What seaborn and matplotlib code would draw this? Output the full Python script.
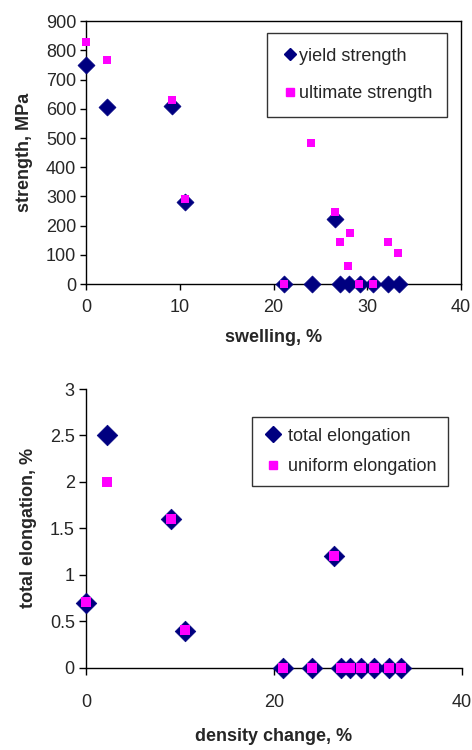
import numpy as np
import pandas as pd
import matplotlib
matplotlib.use("Agg")
import matplotlib.pyplot as plt
import seaborn as sns
from matplotlib.lines import Line2D

# dados
swelling_yield = [0, 2.3, 9.2, 10.6, 26.5, 21.1, 24.1, 27.1, 28.0, 29.2, 30.6, 32.2, 33.4]
yield_strength = [752, 605, 610, 280, 223, 0, 0, 0, 0, 0, 0, 0, 0]

swelling_ult = [0, 2.3, 9.15, 10.6, 21.1, 24.0, 26.5, 27.1, 28.1, 27.9, 29.1, 30.6, 32.2, 33.3]
ultimate_strength = [828, 766, 632, 291, 0, 482, 248, 143, 175, 63, 0, 0, 143, 105]

density_change = [0, 2.2, 9.1, 10.5, 26.4, 21.0, 24.0, 27.1, 28.1, 29.2, 30.6, 32.2, 33.5]
total_elong = [0.7, 2.5, 1.6, 0.4, 1.2, 0, 0, 0, 0, 0, 0, 0, 0]
uniform_elong = [0.71, 2.0, 1.6, 0.41, 1.2, 0, 0, 0, 0, 0, 0, 0, 0]

navy = "#000080"
magenta = "#FF00FF"

sns.set_style("white")
plt.rcParams['font.family'] = ['Liberation Sans', 'DejaVu Sans']

fig = plt.figure(figsize=(4.72, 7.5), dpi=100)

# grafico superior
ax1 = fig.add_axes([0.182, 0.6213, 0.795, 0.3503])
sns.scatterplot(x=swelling_yield, y=yield_strength, ax=ax1, marker="D", s=75,
                color=navy, edgecolor=navy, linewidth=0.5, clip_on=False, zorder=3)
sns.scatterplot(x=swelling_ult, y=ultimate_strength, ax=ax1, marker="s", s=34,
                color=magenta, edgecolor=magenta, linewidth=0, clip_on=False, zorder=4)
ax1.set_xlim(0, 40)
ax1.set_ylim(0, 900)
ax1.set_xticks([0, 10, 20, 30, 40])
ax1.set_yticks(range(0, 901, 100))
for sp in ax1.spines.values():
    sp.set_color("black")
    sp.set_linewidth(1.0)
ax1.tick_params(axis="both", direction="out", length=4, width=1, color="black",
                labelsize=13, bottom=True, left=True)
ax1.tick_params(axis="x", pad=7)
ax1.tick_params(axis="y", pad=3)
ax1.set_xlabel("swelling, %", fontsize=13, fontweight="bold", labelpad=9)
ax1.set_ylabel("strength, MPa", fontsize=13, fontweight="bold", labelpad=9)
h1 = [Line2D([], [], marker="D", color=navy, ls="", markersize=6),
      Line2D([], [], marker="s", color=magenta, ls="", markersize=5.5)]
leg1 = ax1.legend(h1, ["yield strength", "ultimate strength"], loc="upper right",
                  bbox_to_anchor=(0.962, 0.955), fontsize=13, frameon=True, fancybox=False,
                  edgecolor="black", labelspacing=1.15, handletextpad=0.0,
                  handlelength=1.0, borderpad=0.8, borderaxespad=0)
leg1.get_frame().set_linewidth(1.0)

# grafico inferior
ax2 = fig.add_axes([0.182, 0.1097, 0.797, 0.3716])
sns.scatterplot(x=density_change, y=total_elong, ax=ax2, marker="D", s=110,
                color=navy, edgecolor=navy, linewidth=0.5, clip_on=False, zorder=3)
sns.scatterplot(x=density_change, y=uniform_elong, ax=ax2, marker="s", s=45,
                color=magenta, edgecolor=magenta, linewidth=0, clip_on=False, zorder=4)
ax2.set_xlim(0, 40)
ax2.set_ylim(0, 3)
ax2.set_xticks([0, 20, 40])
ax2.set_yticks([0, 0.5, 1, 1.5, 2, 2.5, 3])
ax2.set_yticklabels(["0", "0.5", "1", "1.5", "2", "2.5", "3"])
ax2.spines["top"].set_visible(False)
ax2.spines["right"].set_visible(False)
for sp in ["left", "bottom"]:
    ax2.spines[sp].set_color("black")
    ax2.spines[sp].set_linewidth(1.0)
ax2.tick_params(axis="both", direction="out", length=5, width=1, color="black",
                labelsize=13, bottom=True, left=True)
ax2.tick_params(axis="x", pad=14)
ax2.tick_params(axis="y", pad=3)
ax2.set_xlabel("density change, %", fontsize=13, fontweight="bold", labelpad=12)
ax2.set_ylabel("total elongation, %", fontsize=13, fontweight="bold", labelpad=9)
h2 = [Line2D([], [], marker="D", color=navy, ls="", markersize=8),
      Line2D([], [], marker="s", color=magenta, ls="", markersize=6)]
leg2 = ax2.legend(h2, ["total elongation", "uniform elongation"], loc="upper right",
                  bbox_to_anchor=(0.962, 0.9), fontsize=13, frameon=True, fancybox=False,
                  edgecolor="black", labelspacing=0.75, handletextpad=0.3,
                  handlelength=1.1, borderpad=0.6, borderaxespad=0)
leg2.get_frame().set_linewidth(1.0)

fig.savefig("out.png", dpi=100)
